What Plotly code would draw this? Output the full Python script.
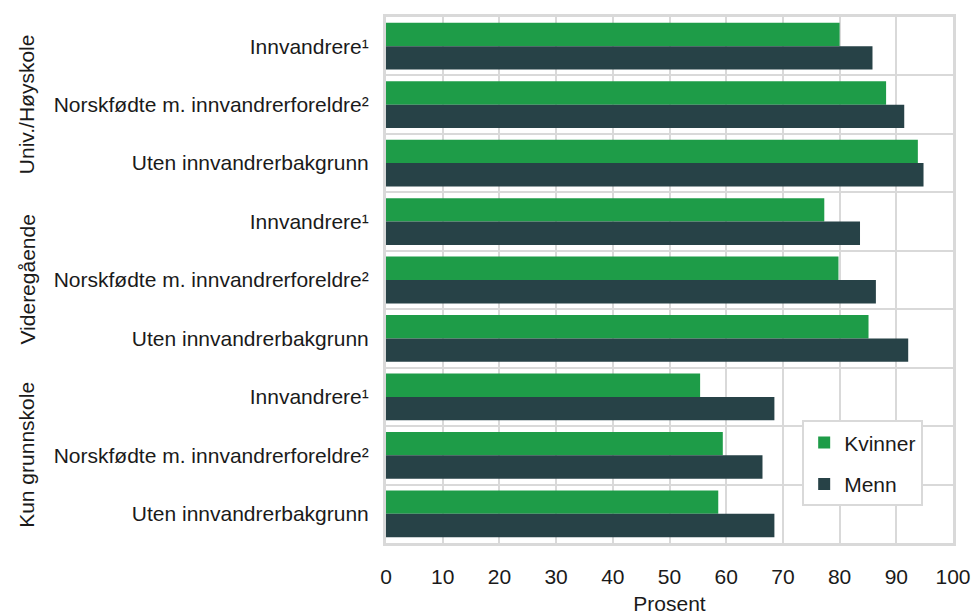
import plotly.graph_objects as go

categories = [
    "Innvandrere¹",
    "Norskfødte m. innvandrerforeldre²",
    "Uten innvandrerbakgrunn",
    "Innvandrere¹",
    "Norskfødte m. innvandrerforeldre²",
    "Uten innvandrerbakgrunn",
    "Innvandrere¹",
    "Norskfødte m. innvandrerforeldre²",
    "Uten innvandrerbakgrunn",
]
groups = ["Univ./Høyskole", "Videregående", "Kun grunnskole"]
kvinner = [80.0, 88.2, 93.8, 77.3, 79.8, 85.1, 55.4, 59.4, 58.6]
menn = [85.8, 91.4, 94.8, 83.6, 86.4, 92.1, 68.5, 66.4, 68.5]
x_ticks = [0, 10, 20, 30, 40, 50, 60, 70, 80, 90, 100]

pos = list(range(len(categories)))
GREEN = "#1e9c48"
DARK = "#274247"
GRID = "#d9d9d9"
FONT = "Liberation Sans, Arial, sans-serif"
FS = 21

fig = go.Figure()
fig.add_trace(go.Bar(y=pos, x=kvinner, orientation="h", name="Kvinner",
                     marker=dict(color=GREEN, line=dict(width=0)), legendgroup="k"))
fig.add_trace(go.Bar(y=pos, x=menn, orientation="h", name="Menn",
                     marker=dict(color=DARK, line=dict(width=0)), legendgroup="m"))

for i, g in enumerate(groups):
    fig.add_annotation(text=g, textangle=-90, xref="paper", yref="y",
                       x=-0.634, y=i * 3 + 1, showarrow=False,
                       font=dict(size=FS, color="#1a1a1a", family=FONT),
                       xanchor="center", yanchor="middle")

fig.update_layout(
    width=971, height=607,
    margin=dict(l=378, r=26, t=9, b=72, autoexpand=False),
    paper_bgcolor="white", plot_bgcolor="white",
    barmode="group", bargap=0.2, bargroupgap=0,
    font=dict(family=FONT, size=FS, color="#1a1a1a"),
    showlegend=True,
    legend=dict(x=0.734, y=0.233, xanchor="left", yanchor="top",
                bgcolor="white", bordercolor=GRID, borderwidth=2,
                font=dict(size=FS, color="#1a1a1a"),
                tracegroupgap=11, traceorder="grouped",
                itemwidth=30),
    xaxis=dict(range=[0, 100], tickvals=x_ticks, showgrid=True,
               gridcolor=GRID, gridwidth=2, zeroline=False,
               showline=True, linecolor=GRID, linewidth=3, mirror=True,
               ticks="", tickfont=dict(size=FS), ticklabelstandoff=13,
               automargin=False,
               title=dict(text="Prosent", font=dict(size=FS), standoff=11)),
    yaxis=dict(range=[8.5, -0.5], tickvals=pos, ticktext=categories,
               showgrid=False, zeroline=False, automargin=False,
               showline=True, linecolor=GRID, linewidth=3, mirror=True,
               ticks="", ticklabelstandoff=10, tickfont=dict(size=FS),
               minor=dict(tick0=0.5, dtick=1, showgrid=True,
                          gridcolor=GRID, gridwidth=2, ticks="")),
)

fig.write_html("out.html")
